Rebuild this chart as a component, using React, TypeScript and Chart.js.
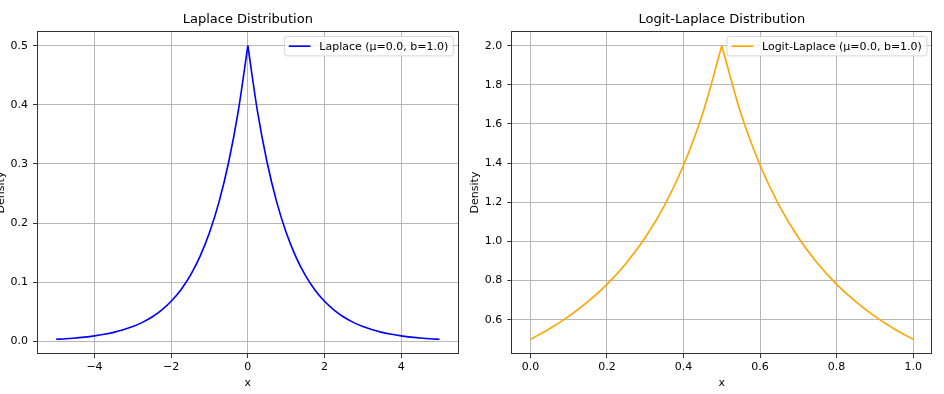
import React, { useEffect, useRef } from 'react';
import Chart from 'chart.js/auto';

const FONT = "'DejaVu Sans', 'Liberation Sans', sans-serif";

// ---- Left panel data ----
const laplaceTitle = 'Laplace Distribution';
const laplaceLabel = 'Laplace (\u03bc=0.0, b=1.0)';
const laplaceX = [
  -5, -4.75, -4.5, -4.25, -4, -3.75, -3.5, -3.25, -3, -2.75, -2.5, -2.25, -2, -1.75, -1.5, -1.25, -1, -0.75, -0.5, -0.25,
  0,
  0.25, 0.5, 0.75, 1, 1.25, 1.5, 1.75, 2, 2.25, 2.5, 2.75, 3, 3.25, 3.5, 3.75, 4, 4.25, 4.5, 4.75, 5,
];
const laplaceY = [
  0.0034, 0.0043, 0.0056, 0.0071, 0.0092, 0.0118, 0.0151, 0.0194, 0.0249, 0.032, 0.041, 0.0527, 0.0677, 0.0869, 0.1116, 0.1433, 0.1839, 0.2362, 0.3033, 0.3894,
  0.5,
  0.3894, 0.3033, 0.2362, 0.1839, 0.1433, 0.1116, 0.0869, 0.0677, 0.0527, 0.041, 0.032, 0.0249, 0.0194, 0.0151, 0.0118, 0.0092, 0.0071, 0.0056, 0.0043, 0.0034,
];
const laplaceXTicks = [-4, -2, 0, 2, 4];
const laplaceYTicks = [0, 0.1, 0.2, 0.3, 0.4, 0.5];

// ---- Right panel data ----
const logitTitle = 'Logit-Laplace Distribution';
const logitLabel = 'Logit-Laplace (\u03bc=0.0, b=1.0)';
const logitX = [0, 0.05, 0.1, 0.15, 0.2, 0.25, 0.3, 0.35, 0.4, 0.45, 0.5, 0.55, 0.6, 0.65, 0.7, 0.75, 0.8, 0.85, 0.9, 0.95, 1.0];
const logitY = [0.5, 0.554, 0.617, 0.692, 0.781, 0.889, 1.02, 1.183, 1.389, 1.653, 2.0, 1.653, 1.389, 1.183, 1.02, 0.889, 0.781, 0.692, 0.617, 0.554, 0.5];
const logitXTicks = [0, 0.2, 0.4, 0.6, 0.8, 1.0];
const logitYTicks = [0.6, 0.8, 1.0, 1.2, 1.4, 1.6, 1.8, 2.0];

const xAxisTitle = 'x';
const yAxisTitle = 'Density';

function fmt(v: number, dec: number): string {
  const s = Math.abs(v).toFixed(dec);
  return v < -1e-12 ? '\u2212' + s : s;
}

type Panel = {
  left: number;
  width: number;
  yAxisWidth: number;
  padRight: number;
  yTitlePad: number;
  title: string;
  label: string;
  color: string;
  xs: number[];
  ys: number[];
  xMin: number; xMax: number; yMin: number; yMax: number;
  xTicks: number[]; yTicks: number[];
  xDec: number; yDec: number;
};

const H = 394;

function buildConfig(p: Panel): any {
  let peak = 0;
  p.ys.forEach((v, i) => { if (v > p.ys[peak]) peak = i; });
  const pts = p.xs.map((x, i) => ({ x, y: p.ys[i] }));
  const leftBranch = pts.slice(0, peak + 1);
  const rightBranch = pts.slice(peak);
  const ds = (data: any[]) => ({
    data,
    borderColor: p.color,
    borderWidth: 1.64,
    pointRadius: 0,
    fill: false,
    cubicInterpolationMode: 'monotone',
  });

  const framePlugin = {
    id: 'frame',
    afterDatasetsDraw(chart: any) {
      const { ctx, chartArea: a } = chart;
      ctx.save();
      ctx.strokeStyle = '#333';
      ctx.lineWidth = 1;
      const l = Math.round(a.left) + 0.5, t = Math.round(a.top) + 0.5;
      const r = Math.round(a.right) - 0.5, b = Math.round(a.bottom) - 0.5;
      ctx.strokeRect(l, t, r - l, b - t);
      ctx.restore();
    },
  };

  const legendPlugin = {
    id: 'mplLegend',
    afterDraw(chart: any) {
      const { ctx, chartArea: a } = chart;
      ctx.save();
      ctx.font = `11px ${FONT}`;
      const tw = ctx.measureText(p.label).width;
      const h = 19.5;
      const w = 35 + tw + 5;
      const right = a.right - 5.4;
      const top = a.top + 5.4;
      const left = right - w;
      const r = 2.5;
      ctx.beginPath();
      ctx.moveTo(left + r, top);
      ctx.lineTo(left + w - r, top);
      ctx.arcTo(left + w, top, left + w, top + r, r);
      ctx.lineTo(left + w, top + h - r);
      ctx.arcTo(left + w, top + h, left + w - r, top + h, r);
      ctx.lineTo(left + r, top + h);
      ctx.arcTo(left, top + h, left, top + h - r, r);
      ctx.lineTo(left, top + r);
      ctx.arcTo(left, top, left + r, top, r);
      ctx.closePath();
      ctx.fillStyle = 'rgba(255,255,255,0.8)';
      ctx.fill();
      ctx.strokeStyle = 'rgba(204,204,204,0.8)';
      ctx.lineWidth = 1;
      ctx.stroke();
      ctx.beginPath();
      ctx.strokeStyle = p.color;
      ctx.lineWidth = 1.64;
      ctx.moveTo(left + 4.4, top + h / 2);
      ctx.lineTo(left + 26.2, top + h / 2);
      ctx.stroke();
      ctx.fillStyle = '#000';
      ctx.textBaseline = 'middle';
      ctx.textAlign = 'left';
      ctx.fillText(p.label, left + 35, top + h / 2 + 0.5);
      ctx.restore();
    },
  };

  const tickFont = { family: FONT, size: 11 };

  return {
    type: 'line',
    data: { datasets: [ds(leftBranch), ds(rightBranch)] },
    options: {
      animation: false,
      responsive: false,
      devicePixelRatio: 1,
      layout: { padding: { left: 0, right: p.padRight, top: 0, bottom: 0 } },
      plugins: {
        legend: { display: false },
        tooltip: { enabled: false },
        title: {
          display: true,
          text: p.title,
          fullSize: false,
          color: '#000',
          font: { family: FONT, size: 13, weight: 'normal', lineHeight: 1.2 },
          padding: { top: 12.2, bottom: 3.2 },
        },
      },
      scales: {
        x: {
          type: 'linear',
          min: p.xMin,
          max: p.xMax,
          afterBuildTicks: (s: any) => { s.ticks = p.xTicks.map((v) => ({ value: v })); },
          afterFit: (s: any) => { s.height = 40; },
          ticks: {
            color: '#000',
            font: tickFont,
            padding: 2.1,
            maxRotation: 0,
            autoSkip: false,
            callback: (v: any) => fmt(Number(v), p.xDec),
          },
          grid: {
            color: '#b0b0b0',
            lineWidth: 0.9,
            drawTicks: true,
            tickLength: 4,
            tickColor: '#333',
            tickWidth: 1,
          },
          border: { display: false },
          title: {
            display: true,
            text: xAxisTitle,
            color: '#000',
            font: { family: FONT, size: 11, lineHeight: 1.2 },
            padding: { top: 0, bottom: 3.8 },
          },
        },
        y: {
          type: 'linear',
          min: p.yMin,
          max: p.yMax,
          afterBuildTicks: (s: any) => { s.ticks = p.yTicks.map((v) => ({ value: v })); },
          afterFit: (s: any) => { s.width = p.yAxisWidth; },
          ticks: {
            color: '#000',
            font: tickFont,
            padding: 5,
            autoSkip: false,
            callback: (v: any) => fmt(Number(v), p.yDec),
          },
          grid: {
            color: '#b0b0b0',
            lineWidth: 0.9,
            drawTicks: true,
            tickLength: 4,
            tickColor: '#333',
            tickWidth: 1,
          },
          border: { display: false },
          title: {
            display: true,
            text: yAxisTitle,
            color: '#000',
            font: { family: FONT, size: 11, lineHeight: 1.2 },
            padding: { top: p.yTitlePad, bottom: 0 },
          },
        },
      },
    },
    plugins: [framePlugin, legendPlugin],
  };
}

const panels: Panel[] = [
  {
    left: -10, width: 482, yAxisWidth: 47, padRight: 13.3, yTitlePad: 4.4,
    title: laplaceTitle, label: laplaceLabel, color: '#0000ff',
    xs: laplaceX, ys: laplaceY,
    xMin: -5.5, xMax: 5.5, yMin: -0.0215, yMax: 0.5248,
    xTicks: laplaceXTicks, yTicks: laplaceYTicks, xDec: 0, yDec: 1,
  },
  {
    left: 462, width: 482, yAxisWidth: 49.3, padRight: 11.7, yTitlePad: 6.9,
    title: logitTitle, label: logitLabel, color: '#ffa500',
    xs: logitX, ys: logitY,
    xMin: -0.05, xMax: 1.05, yMin: 0.425, yMax: 2.075,
    xTicks: logitXTicks, yTicks: logitYTicks, xDec: 1, yDec: 1,
  },
];

function PanelChart({ p }: { p: Panel }) {
  const ref = useRef<HTMLCanvasElement | null>(null);
  useEffect(() => {
    if (!ref.current) return;
    const chart = new Chart(ref.current, buildConfig(p));
    return () => chart.destroy();
  }, [p]);
  return (
    <canvas
      ref={ref}
      width={p.width}
      height={H}
      style={{ position: 'absolute', left: p.left, top: 0, width: p.width, height: H }}
    />
  );
}

export default function App() {
  return (
    <div style={{ position: 'fixed', left: 0, top: 0, width: 944, height: H, background: '#fff', overflow: 'hidden' }}>
      {panels.map((p, i) => (
        <PanelChart key={i} p={p} />
      ))}
    </div>
  );
}
